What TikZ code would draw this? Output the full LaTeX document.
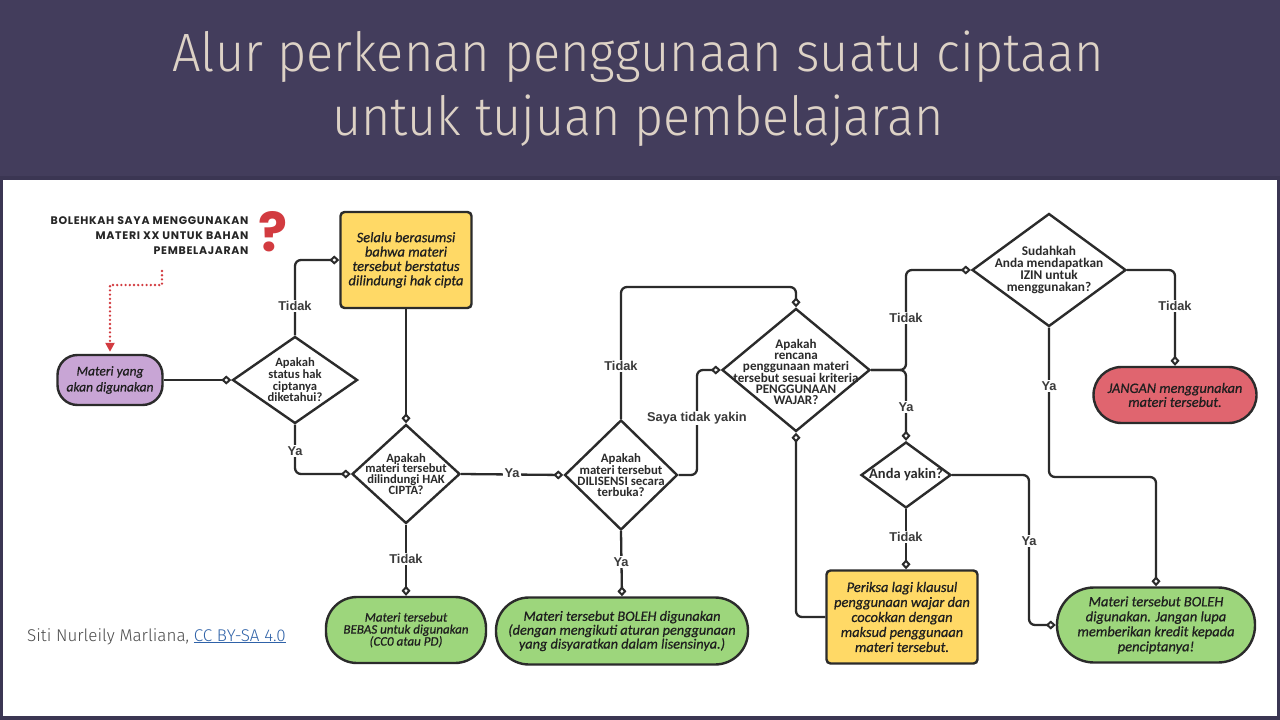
\documentclass[tikz,border=0pt]{standalone}
\usepackage{fontspec}
\usetikzlibrary{arrows.meta,shapes.geometric}
\newfontfamily\titlefont{Fira Sans Light}
\newfontfamily\handfont{Carlito}
\newfontfamily\handbold[FakeBold=0.7]{Carlito}
\newfontfamily\qfont[LetterSpace=6]{Poppins}
\newfontfamily\lblfont{Liberation Sans}

\definecolor{frameclr}{HTML}{3B3653}
\definecolor{hdrclr}{HTML}{433D5C}
\definecolor{titleclr}{HTML}{DDD2C6}
\definecolor{lineclr}{HTML}{2B2B2B}
\definecolor{yellowfill}{HTML}{FFD966}
\definecolor{lilacfill}{HTML}{C8A5D5}
\definecolor{redfill}{HTML}{E0656F}
\definecolor{greenfill}{HTML}{9DD67C}
\definecolor{qred}{HTML}{D23B40}
\definecolor{lblclr}{HTML}{3A3A3A}
\definecolor{credclr}{HTML}{4A4A4A}
\definecolor{linkblue}{HTML}{2F62A8}

\tikzset{
  ttl/.style={anchor=base, text=titleclr, font=\titlefont\fontsize{54}{60}\selectfont},
  conn/.style={line width=2.3pt, draw=lineclr, rounded corners=6pt},
  mk/.style={-{Diamond[open,length=10pt,width=9pt,line width=2pt]}},
  diam/.style={diamond, draw=lineclr, line width=2.4pt, fill=white, inner sep=0pt},
  dtext/.style 2 args={align=center, text=lineclr, font=\handfont\bfseries\fontsize{#1}{#2}\selectfont},
  box/.style={rectangle, draw=lineclr, line width=2.4pt, align=center, inner sep=2pt, text=black!88},
  hand/.style 2 args={font=\handbold\itshape\fontsize{#1}{#2}\selectfont},
  sqbox/.style={box, fill=yellowfill, rounded corners=4pt},
  pill/.style={box, rounded corners=#1},
  lbl/.style={fill=white, inner sep=1.2pt, text=lblclr, font=\lblfont\bfseries\fontsize{12.8}{13}\selectfont},
  qdots/.style={draw=qred, line width=2.6pt, dash pattern=on 0pt off 4.2pt, line cap=round},
}

\begin{document}
\begin{tikzpicture}[x=1pt,y=-1pt]
% slide background, header band and white panel
\fill[frameclr] (0,0) rectangle (1280,720);
\fill[hdrclr] (0,0) rectangle (1280,176);
\fill[white] (3,180) rectangle (1277,716);
\useasboundingbox (0,0) rectangle (1280,720);

% title
\node[ttl] (title1) at (638,71) {\scalebox{0.935}[1]{Alur perkenan penggunaan suatu ciptaan}};
\node[ttl] (title2) at (638,135) {\scalebox{0.93}[1]{untuk tujuan pembelajaran}};

% opening question
\node[anchor=east, align=right, text=black!85, font=\qfont\bfseries\fontsize{11}{15}\selectfont] (qtext) at (252,236)
  {BOLEHKAH SAYA MENGGUNAKAN\\MATERI XX UNTUK BAHAN\\PEMBELAJARAN};
\node[anchor=base, text=qred, font=\qfont\bfseries\fontsize{54}{54}\selectfont] (qmark) at (273,251) {?};
\coordinate (q0) at (162,271);

% start and end shapes
\node[pill=20pt, hand={13.5}{16}, fill=lilacfill, minimum width=105pt, minimum height=50pt] (materi) at (110,380) {Materi yang\\akan digunakan};
\node[sqbox, hand={14.5}{14.4}, minimum width=131pt, minimum height=96pt] (asumsi) at (406,260) {Selalu berasumsi\\bahwa materi\\tersebut berstatus\\dilindungi hak cipta};
\node[pill=31pt, hand={13}{12}, fill=greenfill, minimum width=160pt, minimum height=66pt] (bebas) at (406,630) {Materi tersebut\\BEBAS untuk digunakan\\(CC0 atau PD)};
\node[pill=33pt, hand={14.3}{12.7}, fill=greenfill, minimum width=252pt, minimum height=67pt] (bolehlis) at (622,631) {Materi tersebut BOLEH digunakan\\(dengan mengikuti aturan penggunaan\\yang disyaratkan dalam lisensinya.)};
\node[sqbox, hand={14.4}{15}, minimum width=151pt, minimum height=93pt] (periksa) at (902,617) {Periksa lagi klausul\\penggunaan wajar dan\\cocokkan dengan\\maksud penggunaan\\materi tersebut.};
\node[pill=28pt, hand={14.3}{14}, fill=redfill, minimum width=163pt, minimum height=56pt] (jangan) at (1175,395) {JANGAN menggunakan\\materi tersebut.};
\node[pill=37pt, hand={14.5}{15}, fill=greenfill, minimum width=198pt, minimum height=75pt] (bolehkr) at (1156,625) {Materi tersebut BOLEH\\digunakan. Jangan lupa\\memberikan kredit kepada\\penciptanya!};

% decisions
\node[diam, minimum width=125pt, minimum height=87pt] (d1) at (295,380) {};
\node[dtext={12.6}{11.7}] (d1t) at (d1) {Apakah\\status hak\\ciptanya\\diketahui?};
\node[diam, minimum width=108pt, minimum height=99pt] (d2) at (406,474) {};
\node[dtext={12.6}{10.9}] (d2t) at (d2) {Apakah\\materi tersebut\\dilindungi HAK\\CIPTA?};
\node[diam, minimum width=113pt, minimum height=110pt] (d3) at (621,475) {};
\node[dtext={12.8}{10.9}] (d3t) at (d3) {Apakah\\materi tersebut\\DILISENSI secara\\terbuka?};
\node[diam, minimum width=148pt, minimum height=123pt] (d4) at (796,370) {};
\node[dtext={13.1}{11.1}] (d4t) at ([yshift=-2pt]d4.center) {Apakah\\rencana\\penggunaan materi\\tersebut sesuai kriteria\\PENGGUNAAN\\WAJAR?};
\node[diam, minimum width=154pt, minimum height=113pt] (d5) at (1049,270) {};
\node[dtext={13.3}{12}] (d5t) at (d5) {Sudahkah\\Anda mendapatkan\\IZIN untuk\\menggunakan?};
\node[diam, minimum width=90pt, minimum height=66pt] (yakin) at (906,475) {};
\node[dtext={14.5}{14}] (yakint) at (yakin) {Anda yakin?};

% routing coordinates
\coordinate (top1) at (0,287);
\coordinate (mid1) at (0,477);
\coordinate (v1) at (697,0);
\coordinate (v2) at (906,0);
\coordinate (v3) at (1029,0);

% connectors
\draw[qdots, -{Triangle[length=9pt,width=9pt]}, shorten >=2pt] (q0) -- ++(0,14) -| (materi.north);
\draw[conn, mk] (materi.east) -- (d1.west);
\draw[conn, mk] (d1.north) |- (asumsi.west);
\draw[conn, mk] (d1.south) |- (d2.west);
\draw[conn, mk] (asumsi.south) -- (d2.north);
\draw[conn, mk] (d2.east) -- (d3.west);
\draw[conn, mk] (d2.south) -- (bebas.north);
\draw[conn, mk] (d3.south) -- (bolehlis.north);
\draw[conn, mk] (d3.north) -- (d3.north |- top1) -| (d4.north);
\draw[conn, mk] (d3.east) -- (d3.east -| v1) |- (d4.west);
\draw[conn, mk] (d4.east) -- (d4.east -| v2) |- (d5.west);
\draw[conn, mk] (d4.east) -| (yakin.north);
\draw[conn, mk] (d5.east) -| (jangan.north);
\draw[conn, mk] (d5.south) -- (d5.south |- mid1) -| (bolehkr.north);
\draw[conn, mk] (yakin.south) -- (yakin.south |- periksa.north);
\draw[conn, mk] (yakin.east) -- (yakin.east -| v3) |- (bolehkr.west);
\draw[conn, mk] (periksa.west) -| (d4.south);

% connector labels
\node[lbl] (l1) at (295,306) {Tidak};
\node[lbl] (l2) at (295,451) {Ya};
\node[lbl] (l3) at (512,473) {Ya};
\node[lbl] (l4) at (406,559) {Tidak};
\node[lbl] (l5) at (621,366) {Tidak};
\node[lbl] (l6) at (697,418) {Saya tidak yakin};
\node[lbl] (l7) at (621,562) {Ya};
\node[lbl] (l8) at (906,318) {Tidak};
\node[lbl] (l9) at (906,407) {Ya};
\node[lbl] (l10) at (1175,306) {Tidak};
\node[lbl] (l11) at (1049,386) {Ya};
\node[lbl] (l12) at (906,537) {Tidak};
\node[lbl] (l13) at (1029,541) {Ya};

% credit line
\node[anchor=base west, inner sep=0pt, text=credclr, font=\titlefont\fontsize{17}{17}\selectfont] (credit) at (27,641)
  {Siti Nurleily Marliana, \textcolor{linkblue}{\underline{CC BY-SA 4.0}}};
\end{tikzpicture}
\end{document}
